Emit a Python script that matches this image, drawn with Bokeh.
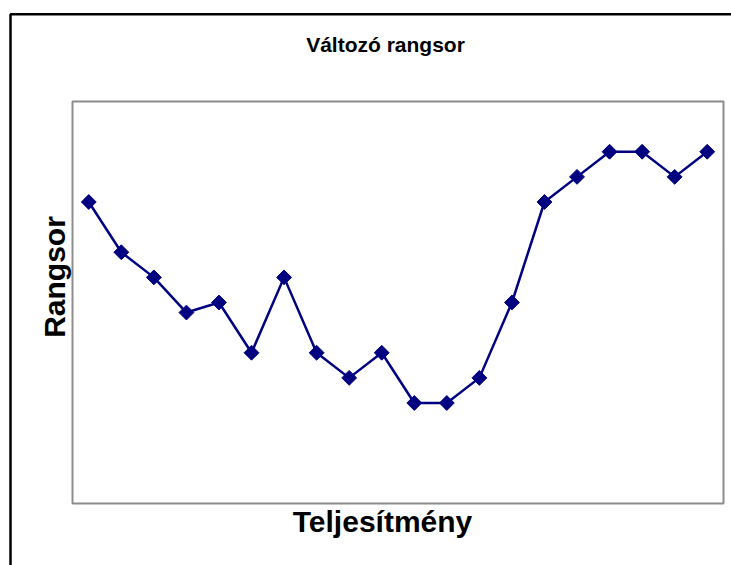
import math
from bokeh.plotting import figure
from bokeh.models import Label, BoxAnnotation, Range1d
from bokeh.embed import file_html
from bokeh.resources import INLINE

# ---- data ----
title_text = "Változó rangsor"
x_label = "Teljesítmény"
y_label = "Rangsor"
positions = [1, 2, 3, 4, 5, 6, 7, 8, 9, 10, 11, 12, 13, 14, 15, 16, 17, 18, 19, 20]
ranks = [12, 10, 9, 7.6, 8, 6, 9, 6, 5, 6, 4, 4, 5, 8, 12, 13, 14, 14, 13, 14]
x_min, x_max = 0.5, 20.5
y_min, y_max = 0, 16

# ---- layout (pixel positions of the plot area inside the canvas) ----
W, H = 731, 565
PL, PR, PT, PB = 72, 723, 101, 503
sx = (PR - PL) / (x_max - x_min)
sy = (PB - PT) / (y_max - y_min)


def dx(px):
    return x_min + (px - PL) / sx


def dy(py):
    return y_min + (PB - py) / sy


p = figure(width=W, height=H, output_backend="svg", toolbar_location=None,
           x_range=Range1d(dx(0), dx(W)), y_range=Range1d(dy(H), dy(0)),
           min_border=0)
p.xaxis.visible = False
p.yaxis.visible = False
p.grid.visible = False
p.outline_line_color = None
p.background_fill_color = "white"
p.border_fill_color = "white"

# plot area frame (gray)
p.add_layout(BoxAnnotation(left=x_min, right=x_max, bottom=y_min, top=y_max,
                           fill_alpha=0, line_color="#8c8c8c", line_alpha=1,
                           line_width=2, level="underlay"))
# outer chart border (black)
p.add_layout(BoxAnnotation(left=dx(10), right=dx(W + 10), top=dy(13.7), bottom=dy(H + 10),
                           fill_alpha=0, line_color="black", line_alpha=1,
                           line_width=2.5, level="underlay"))

p.line(positions, ranks, line_color="#000080", line_width=2.5)
p.scatter(positions, ranks, marker="square", angle=math.pi / 4, size=10.5,
          fill_color="#000080", line_color="#000080", line_width=1)

font = "Liberation Sans"
p.add_layout(Label(x=dx(385), y=dy(44), text=title_text, text_font=font,
                   text_font_style="bold", text_font_size="21px",
                   text_align="center", text_baseline="alphabetic", text_color="black"))
p.add_layout(Label(x=dx(382), y=dy(521), text=x_label, text_font=font,
                   text_font_style="bold", text_font_size="30px",
                   text_align="center", text_baseline="alphabetic", text_color="black"))
p.add_layout(Label(x=dx(54), y=dy(276.5), text=y_label, text_font=font,
                   text_font_style="bold", text_font_size="30px", angle=math.pi / 2,
                   text_align="center", text_baseline="alphabetic", text_color="black"))

open("out.html", "w").write(file_html(p, INLINE))
